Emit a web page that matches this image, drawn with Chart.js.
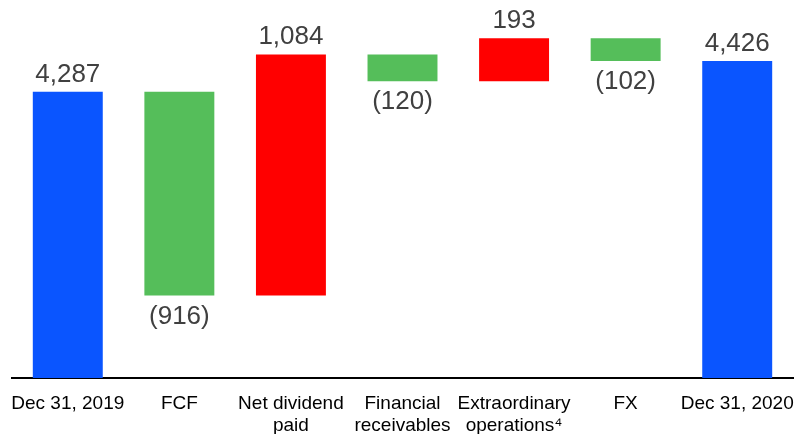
<!DOCTYPE html>
<html><head><meta charset="utf-8">
<script src="https://cdn.jsdelivr.net/npm/chart.js@4"></script>
<style>html,body{margin:0;padding:0;background:#fff}#wrap{width:796px;height:434px}</style>
</head><body><div id="wrap"><canvas id="c" width="796" height="434"></canvas></div>
<script>
const categories = [["Dec 31, 2019"],["FCF"],["Net dividend","paid"],["Financial","receivables"],["Extraordinary","operations\u2074"],["FX"],["Dec 31, 2020"]];
const startValue = 4287;
const changes = [-916, 1084, -120, 193, -102];
const endValue = 4426;
const valueLabels = ["4,287","(916)","1,084","(120)","193","(102)","4,426"];
const axisFloor = 3000;
const axisCeil = 4700;

const ranges = [[axisFloor, startValue]];
const kinds = ['total'];
let running = startValue;
changes.forEach(c => { ranges.push([running, running + c]); kinds.push(c < 0 ? 'neg' : 'pos'); running += c; });
ranges.push([axisFloor, endValue]); kinds.push('total');
const colorFor = {total:'#0A55FF', neg:'#55BE5A', pos:'#FF0000'};

const labelPlugin = {
  id:'vlabels',
  afterDatasetsDraw(chart){
    const ctx = chart.ctx;
    const meta = chart.getDatasetMeta(0);
    ctx.save();
    ctx.font = '26px "Liberation Sans", Arial, sans-serif';
    ctx.fillStyle = '#404040';
    ctx.textAlign = 'center';
    ctx.textBaseline = 'alphabetic';
    meta.data.forEach((el, i) => {
      const top = Math.min(el.y, el.base), bot = Math.max(el.y, el.base);
      if (kinds[i] === 'neg') ctx.fillText(valueLabels[i], el.x, bot + 28);
      else ctx.fillText(valueLabels[i], el.x, top - 10);
    });
    ctx.restore();
  }
};

new Chart(document.getElementById('c'), {
  type:'bar',
  data:{ labels: categories, datasets:[{ data: ranges, backgroundColor: kinds.map(k=>colorFor[k]), borderWidth:0, barPercentage:1, categoryPercentage:0.627 }]},
  options:{
    responsive:false, devicePixelRatio:1, animation:false,
    layout:{padding:{left:12,right:3,top:0,bottom:0}},
    plugins:{legend:{display:false}, tooltip:{enabled:false}},
    scales:{
      y:{display:false, min:axisFloor, max:axisCeil},
      x:{
        grid:{display:false, drawTicks:false},
        border:{display:true, color:'#000', width:2},
        ticks:{color:'#000', font:{family:'"Liberation Sans", Arial, sans-serif', size:19, lineHeight:1.2}, padding:14, maxRotation:0, autoSkip:false},
        afterFit(s){ s.height = 56; s.paddingLeft = 0; s.paddingRight = 0; }
      }
    }
  },
  plugins:[labelPlugin]
});
</script></body></html>
